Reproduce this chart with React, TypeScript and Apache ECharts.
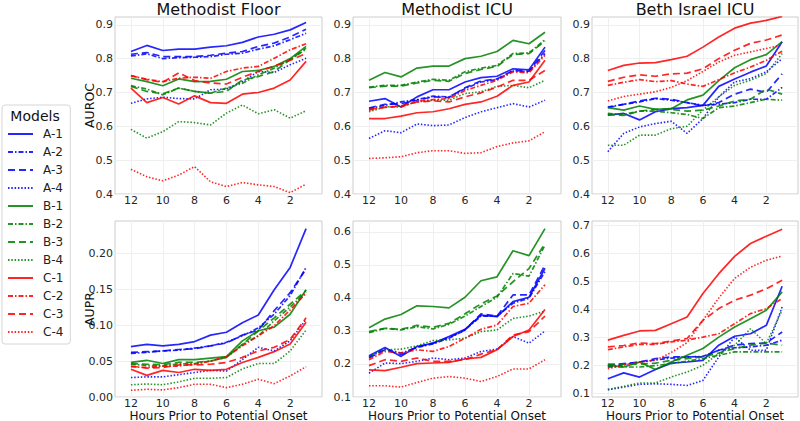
import React, { useEffect, useRef } from "react";
import * as echarts from "echarts";

// ---------- data ----------
const HOURS = [12, 11, 10, 9, 8, 7, 6, 5, 4, 3, 2, 1];
const MODELS = ["A-1", "A-2", "A-3", "A-4", "B-1", "B-2", "B-3", "B-4", "C-1", "C-2", "C-3", "C-4"];
const PANEL_TITLES = ["Methodist Floor", "Methodist ICU", "Beth Israel ICU"];
const ROW_LABELS = ["AUROC", "AUPR"];
const X_LABEL = "Hours Prior to Potential Onset";

// rows follow MODELS order; columns follow HOURS order
const floorAUROC = [
  [0.821, 0.839, 0.824, 0.828, 0.828, 0.834, 0.838, 0.848, 0.864, 0.872, 0.885, 0.907],
  [0.808, 0.814, 0.800, 0.803, 0.804, 0.806, 0.813, 0.816, 0.828, 0.838, 0.856, 0.875],
  [0.813, 0.818, 0.806, 0.806, 0.806, 0.810, 0.816, 0.821, 0.836, 0.846, 0.864, 0.887],
  [0.668, 0.681, 0.686, 0.682, 0.681, 0.708, 0.710, 0.732, 0.762, 0.759, 0.782, 0.801],
  [0.742, 0.732, 0.720, 0.740, 0.732, 0.733, 0.739, 0.762, 0.765, 0.777, 0.800, 0.836],
  [0.720, 0.710, 0.693, 0.713, 0.703, 0.698, 0.713, 0.727, 0.752, 0.772, 0.797, 0.828],
  [0.718, 0.703, 0.696, 0.713, 0.703, 0.698, 0.703, 0.737, 0.747, 0.762, 0.797, 0.831],
  [0.591, 0.565, 0.584, 0.614, 0.611, 0.604, 0.639, 0.663, 0.637, 0.649, 0.624, 0.646],
  [0.713, 0.670, 0.685, 0.666, 0.690, 0.670, 0.668, 0.695, 0.700, 0.713, 0.737, 0.792],
  [0.749, 0.739, 0.732, 0.742, 0.745, 0.742, 0.762, 0.772, 0.777, 0.801, 0.826, 0.844],
  [0.750, 0.738, 0.730, 0.758, 0.735, 0.728, 0.725, 0.745, 0.762, 0.778, 0.795, 0.815],
  [0.473, 0.451, 0.439, 0.456, 0.481, 0.436, 0.422, 0.434, 0.427, 0.422, 0.404, 0.429],
];

const icuAUROC = [
  [0.674, 0.682, 0.657, 0.687, 0.708, 0.708, 0.731, 0.744, 0.748, 0.770, 0.767, 0.834],
  [0.652, 0.662, 0.672, 0.679, 0.689, 0.687, 0.711, 0.731, 0.738, 0.763, 0.761, 0.815],
  [0.654, 0.665, 0.667, 0.677, 0.687, 0.685, 0.714, 0.734, 0.740, 0.765, 0.763, 0.824],
  [0.564, 0.587, 0.581, 0.607, 0.602, 0.604, 0.626, 0.643, 0.655, 0.667, 0.657, 0.677],
  [0.736, 0.759, 0.746, 0.772, 0.778, 0.778, 0.800, 0.807, 0.821, 0.854, 0.844, 0.878],
  [0.716, 0.721, 0.721, 0.731, 0.739, 0.736, 0.761, 0.772, 0.780, 0.815, 0.817, 0.856],
  [0.714, 0.719, 0.719, 0.728, 0.736, 0.733, 0.756, 0.768, 0.777, 0.812, 0.815, 0.852],
  [0.643, 0.657, 0.660, 0.672, 0.677, 0.677, 0.697, 0.702, 0.718, 0.721, 0.714, 0.736],
  [0.623, 0.623, 0.630, 0.640, 0.643, 0.652, 0.665, 0.672, 0.689, 0.721, 0.731, 0.795],
  [0.648, 0.657, 0.657, 0.674, 0.679, 0.682, 0.706, 0.721, 0.736, 0.761, 0.758, 0.810],
  [0.650, 0.656, 0.660, 0.672, 0.675, 0.672, 0.687, 0.699, 0.716, 0.736, 0.736, 0.765],
  [0.505, 0.507, 0.510, 0.522, 0.528, 0.528, 0.520, 0.522, 0.540, 0.551, 0.557, 0.584],
];

const bethAUROC = [
  [0.633, 0.638, 0.619, 0.643, 0.652, 0.655, 0.662, 0.718, 0.740, 0.760, 0.778, 0.850],
  [0.657, 0.665, 0.672, 0.682, 0.677, 0.670, 0.662, 0.665, 0.670, 0.680, 0.680, 0.715],
  [0.655, 0.665, 0.675, 0.683, 0.680, 0.670, 0.660, 0.670, 0.695, 0.710, 0.700, 0.755],
  [0.525, 0.579, 0.598, 0.608, 0.615, 0.579, 0.623, 0.687, 0.731, 0.741, 0.761, 0.800],
  [0.655, 0.648, 0.660, 0.650, 0.652, 0.678, 0.692, 0.735, 0.773, 0.797, 0.812, 0.850],
  [0.638, 0.635, 0.645, 0.645, 0.640, 0.635, 0.623, 0.655, 0.660, 0.670, 0.680, 0.677],
  [0.635, 0.632, 0.645, 0.650, 0.650, 0.645, 0.648, 0.660, 0.675, 0.680, 0.710, 0.695],
  [0.544, 0.544, 0.574, 0.574, 0.593, 0.600, 0.648, 0.687, 0.721, 0.736, 0.756, 0.815],
  [0.765, 0.780, 0.787, 0.788, 0.797, 0.807, 0.834, 0.864, 0.890, 0.905, 0.913, 0.925],
  [0.721, 0.730, 0.738, 0.732, 0.735, 0.725, 0.718, 0.738, 0.758, 0.775, 0.795, 0.822],
  [0.733, 0.745, 0.752, 0.748, 0.755, 0.757, 0.770, 0.800, 0.825, 0.845, 0.855, 0.870],
  [0.675, 0.688, 0.695, 0.702, 0.715, 0.735, 0.762, 0.790, 0.810, 0.820, 0.830, 0.840],
];

const floorAUPR = [
  [0.070, 0.073, 0.071, 0.073, 0.077, 0.086, 0.090, 0.103, 0.114, 0.149, 0.180, 0.234],
  [0.0605, 0.062, 0.064, 0.065, 0.068, 0.071, 0.076, 0.085, 0.096, 0.115, 0.141, 0.180],
  [0.062, 0.063, 0.064, 0.066, 0.067, 0.071, 0.075, 0.086, 0.093, 0.120, 0.145, 0.178],
  [0.027, 0.028, 0.028, 0.031, 0.034, 0.037, 0.036, 0.052, 0.069, 0.064, 0.078, 0.108],
  [0.048, 0.051, 0.0465, 0.052, 0.052, 0.054, 0.056, 0.078, 0.092, 0.097, 0.115, 0.149],
  [0.0455, 0.044, 0.043, 0.046, 0.0465, 0.050, 0.055, 0.073, 0.085, 0.106, 0.125, 0.146],
  [0.0465, 0.0455, 0.045, 0.048, 0.048, 0.050, 0.055, 0.073, 0.092, 0.110, 0.129, 0.148],
  [0.017, 0.018, 0.017, 0.021, 0.026, 0.026, 0.027, 0.039, 0.0465, 0.0465, 0.064, 0.093],
  [0.0385, 0.030, 0.037, 0.034, 0.0385, 0.037, 0.0385, 0.048, 0.055, 0.063, 0.0735, 0.104],
  [0.042, 0.041, 0.043, 0.043, 0.0455, 0.050, 0.056, 0.071, 0.085, 0.099, 0.121, 0.144],
  [0.043, 0.040, 0.041, 0.0445, 0.0445, 0.0455, 0.048, 0.055, 0.064, 0.069, 0.080, 0.110],
  [0.0093, 0.0107, 0.0098, 0.013, 0.0177, 0.0177, 0.013, 0.0177, 0.0247, 0.0186, 0.0293, 0.042],
];

const icuAUPR = [
  [0.225, 0.250, 0.223, 0.253, 0.263, 0.283, 0.305, 0.348, 0.343, 0.389, 0.402, 0.490],
  [0.221, 0.245, 0.233, 0.250, 0.261, 0.278, 0.303, 0.345, 0.345, 0.384, 0.399, 0.480],
  [0.218, 0.243, 0.228, 0.251, 0.263, 0.280, 0.303, 0.352, 0.345, 0.409, 0.409, 0.500],
  [0.172, 0.203, 0.201, 0.208, 0.218, 0.213, 0.218, 0.238, 0.245, 0.283, 0.263, 0.300],
  [0.310, 0.336, 0.350, 0.376, 0.374, 0.370, 0.402, 0.452, 0.464, 0.543, 0.528, 0.610],
  [0.295, 0.308, 0.303, 0.313, 0.306, 0.320, 0.345, 0.374, 0.402, 0.474, 0.466, 0.560],
  [0.298, 0.308, 0.305, 0.317, 0.311, 0.323, 0.352, 0.382, 0.406, 0.449, 0.489, 0.565],
  [0.223, 0.243, 0.245, 0.255, 0.271, 0.273, 0.278, 0.298, 0.303, 0.338, 0.345, 0.360],
  [0.182, 0.180, 0.190, 0.201, 0.203, 0.205, 0.215, 0.220, 0.243, 0.283, 0.303, 0.365],
  [0.213, 0.238, 0.233, 0.243, 0.238, 0.253, 0.278, 0.305, 0.318, 0.374, 0.384, 0.440],
  [0.195, 0.213, 0.208, 0.218, 0.208, 0.208, 0.213, 0.230, 0.243, 0.288, 0.298, 0.345],
  [0.134, 0.134, 0.130, 0.144, 0.157, 0.162, 0.157, 0.147, 0.162, 0.185, 0.185, 0.213],
];

const bethAUPR = [
  [0.151, 0.172, 0.157, 0.184, 0.207, 0.211, 0.217, 0.271, 0.303, 0.312, 0.342, 0.482],
  [0.193, 0.202, 0.211, 0.218, 0.225, 0.229, 0.231, 0.253, 0.262, 0.265, 0.271, 0.289],
  [0.199, 0.205, 0.211, 0.223, 0.229, 0.229, 0.229, 0.253, 0.271, 0.277, 0.279, 0.318],
  [0.112, 0.121, 0.131, 0.133, 0.131, 0.127, 0.145, 0.229, 0.300, 0.253, 0.253, 0.408],
  [0.199, 0.193, 0.211, 0.184, 0.211, 0.235, 0.259, 0.300, 0.336, 0.366, 0.396, 0.462],
  [0.193, 0.193, 0.193, 0.198, 0.205, 0.214, 0.223, 0.235, 0.247, 0.247, 0.247, 0.247],
  [0.203, 0.203, 0.203, 0.207, 0.217, 0.223, 0.229, 0.243, 0.259, 0.271, 0.279, 0.271],
  [0.112, 0.124, 0.136, 0.136, 0.157, 0.175, 0.199, 0.241, 0.271, 0.330, 0.277, 0.396],
  [0.289, 0.306, 0.322, 0.324, 0.348, 0.372, 0.456, 0.527, 0.589, 0.635, 0.661, 0.686],
  [0.255, 0.265, 0.274, 0.274, 0.283, 0.289, 0.300, 0.312, 0.348, 0.384, 0.402, 0.438],
  [0.265, 0.270, 0.279, 0.277, 0.286, 0.295, 0.360, 0.402, 0.432, 0.450, 0.473, 0.503],
  [0.187, 0.200, 0.210, 0.217, 0.245, 0.280, 0.360, 0.440, 0.510, 0.550, 0.575, 0.590],
];

const PANEL_DATA = [floorAUROC, icuAUROC, bethAUROC, floorAUPR, icuAUPR, bethAUPR];

const AUROC_TICKS = [0.4, 0.5, 0.6, 0.7, 0.8, 0.9];
const FLOOR_AUPR_TICKS = [0.0, 0.05, 0.1, 0.15, 0.2];
const ICU_AUPR_TICKS = [0.1, 0.2, 0.3, 0.4, 0.5, 0.6];
const BETH_AUPR_TICKS = [0.1, 0.2, 0.3, 0.4, 0.5, 0.6, 0.7];
const X_TICKS = [12, 10, 8, 6, 4, 2];

// ---------- styling ----------
const FONT = "DejaVu Sans";
const GROUP_COLORS: Record<string, string> = { A: "#0000ff", B: "#008000", C: "#ff0000" };
const DASHES: Record<string, any> = {
  "1": "solid",
  "2": [5, 2, 1.5, 2],
  "3": [7, 4],
  "4": [1.5, 1.8],
};

const GRIDS = [
  { left: 115, top: 17, width: 207, height: 177 },
  { left: 353, top: 17, width: 208, height: 177 },
  { left: 592, top: 17, width: 206, height: 177 },
  { left: 115, top: 221, width: 207, height: 176 },
  { left: 353, top: 221, width: 208, height: 176 },
  { left: 592, top: 221, width: 206, height: 176 },
];

const Y_RANGES = [
  { min: 0.4, max: 0.923, ticks: AUROC_TICKS, dec: 1 },
  { min: 0.4, max: 0.923, ticks: AUROC_TICKS, dec: 1 },
  { min: 0.4, max: 0.923, ticks: AUROC_TICKS, dec: 1 },
  { min: 0.0, max: 0.2445, ticks: FLOOR_AUPR_TICKS, dec: 2 },
  { min: 0.1, max: 0.633, ticks: ICU_AUPR_TICKS, dec: 1 },
  { min: 0.0857, max: 0.7154, ticks: BETH_AUPR_TICKS, dec: 1 },
];

export default function App() {
  const ref = useRef<HTMLDivElement>(null);

  useEffect(() => {
    if (!ref.current) return;
    const chart = echarts.init(ref.current, undefined, { renderer: "svg" });

    const labelStyle = { fontFamily: FONT, fontSize: 11, color: "#262626" };

    const xAxis = GRIDS.map((_, i) => ({
      type: "value",
      gridIndex: i,
      inverse: true,
      min: 0,
      max: 13,
      axisLine: { show: false },
      axisTick: { show: false, customValues: X_TICKS },
      axisLabel: { ...labelStyle, margin: 1, customValues: X_TICKS, formatter: (v: number) => String(Math.round(v)) },
      splitLine: { show: true, lineStyle: { color: "#efefef", width: 1 } },
    }));

    const yAxis = GRIDS.map((_, i) => {
      const r = Y_RANGES[i];
      return {
        type: "value",
        gridIndex: i,
        min: r.min,
        max: r.max,
        axisLine: { show: false },
        axisTick: { show: false, customValues: r.ticks },
        axisLabel: { ...labelStyle, margin: 2, customValues: r.ticks, formatter: (v: number) => v.toFixed(r.dec) },
        splitLine: { show: true, lineStyle: { color: "#efefef", width: 1 } },
      };
    });

    const series: any[] = [];
    PANEL_DATA.forEach((panel, p) => {
      panel.forEach((vals, m) => {
        const name = MODELS[m];
        const [grp, num] = name.split("-");
        const color = GROUP_COLORS[grp];
        series.push({
          type: "line",
          name,
          xAxisIndex: p,
          yAxisIndex: p,
          data: HOURS.map((h, k) => [h, vals[k]]),
          symbol: "none",
          showSymbol: false,
          clip: true,
          silent: true,
          lineStyle: { color, width: num === "4" ? 1.6 : 1.7, type: DASHES[num], opacity: 0.85 },
          itemStyle: { color, opacity: 0.85 },
          emphasis: { disabled: true },
        });
      });
    });

    const graphic: any[] = [];
    PANEL_TITLES.forEach((t, i) => {
      const g = GRIDS[i];
      graphic.push({
        type: "text",
        x: g.left + g.width / 2,
        y: 9.5,
        style: { text: t, fontFamily: FONT, fontSize: 16, fill: "#111", align: "center", verticalAlign: "middle" },
      });
      const gb = GRIDS[i + 3];
      graphic.push({
        type: "text",
        x: gb.left + gb.width / 2,
        y: 415.5,
        style: { text: X_LABEL, fontFamily: FONT, fontSize: 12, fill: "#111", align: "center", verticalAlign: "middle" },
      });
    });
    ROW_LABELS.forEach((t, r) => {
      const g = GRIDS[r * 3];
      graphic.push({
        type: "text",
        x: 89.5,
        y: g.top + g.height / 2,
        rotation: Math.PI / 2,
        style: { text: t, fontFamily: FONT, fontSize: 12.5, fill: "#111", align: "center", verticalAlign: "middle" },
      });
    });
    graphic.push({
      type: "text",
      x: 35,
      y: 116,
      z: 100,
      style: { text: "Models", fontFamily: FONT, fontSize: 14, fill: "#111", align: "center", verticalAlign: "middle" },
    });

    chart.setOption({
      animation: false,
      backgroundColor: "#ffffff",
      grid: GRIDS.map((g) => ({ ...g, show: true, borderColor: "#cccccc", borderWidth: 1, backgroundColor: "transparent" })),
      xAxis,
      yAxis,
      legend: {
        data: MODELS,
        orient: "vertical",
        left: 2,
        top: 105,
        padding: [23, 7, 6, 5],
        itemGap: 6,
        itemWidth: 25,
        itemHeight: 12,
        selectedMode: false,
        backgroundColor: "#ffffff",
        borderColor: "#d6d6d6",
        borderWidth: 1,
        borderRadius: 3,
        itemStyle: { opacity: 0, color: "transparent", borderWidth: 0 },
        textStyle: { fontFamily: FONT, fontSize: 12, color: "#222", padding: [0, 0, 0, 5] },
      },
      graphic,
      series,
    });

    return () => chart.dispose();
  }, []);

  return <div ref={ref} style={{ position: "fixed", left: 0, top: 0, width: 800, height: 421 }} />;
}
